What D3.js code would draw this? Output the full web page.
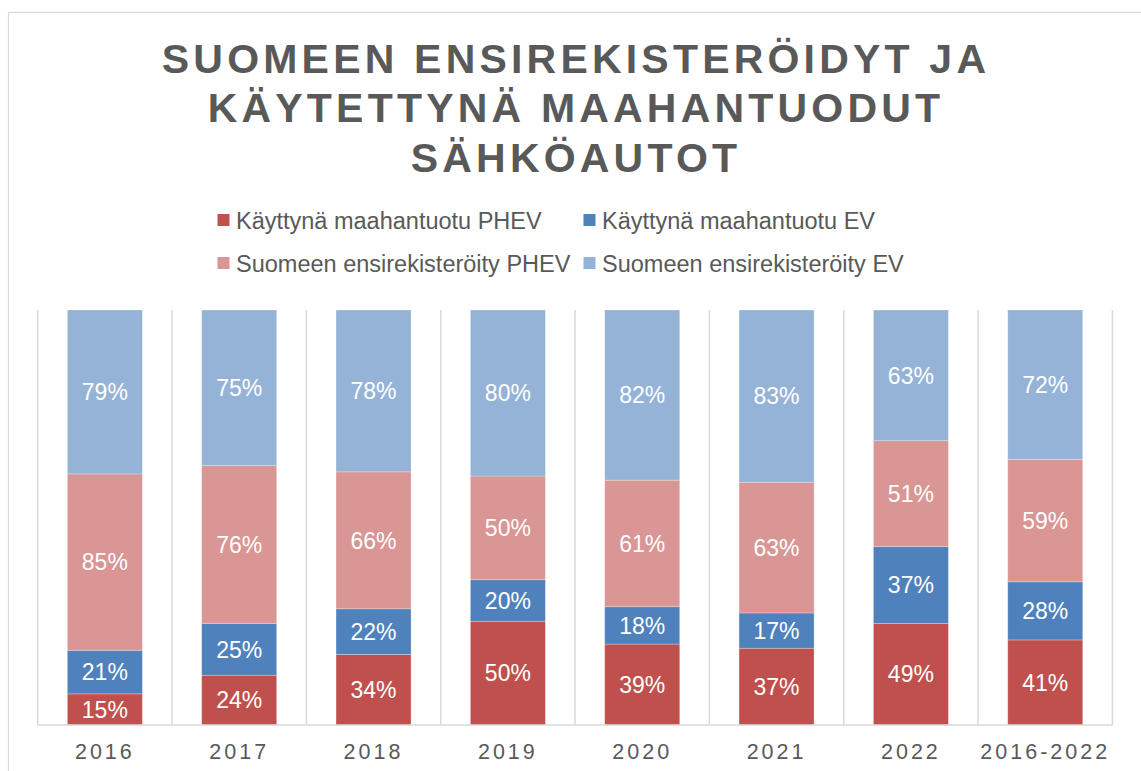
<!DOCTYPE html>
<html>
<head>
<meta charset="utf-8">
<script src="https://cdn.jsdelivr.net/npm/d3@7"></script>
<style>
  html, body { margin: 0; padding: 0; background: #fff; }
  svg { display: block; font-family: "Liberation Sans", Arial, sans-serif; }
</style>
</head>
<body>
<svg id="chart" width="1141" height="771"></svg>
<script>
// ---- data ----
const categories = ["2016", "2017", "2018", "2019", "2020", "2021", "2022", "2016-2022"];
const seriesNames = [
  "Käyttynä maahantuotu PHEV",
  "Käyttynä maahantuotu EV",
  "Suomeen ensirekisteröity PHEV",
  "Suomeen ensirekisteröity EV"
];
const usedPHEV = [15, 24, 34, 50, 39, 37, 49, 41];
const usedEV   = [21, 25, 22, 20, 18, 17, 37, 28];
const newPHEV  = [85, 76, 66, 50, 61, 63, 51, 59];
const newEV    = [79, 75, 78, 80, 82, 83, 63, 72];
const seriesColors = ["#C0504D", "#4F81BD", "#D99694", "#95B3D7"];
const titleLines = ["SUOMEEN ENSIREKISTERÖIDYT JA", "KÄYTETTYNÄ MAAHANTUODUT", "SÄHKÖAUTOT"];

const seriesValues = [usedPHEV, usedEV, newPHEV, newEV];
const table = categories.map((c, i) => {
  const row = { cat: c };
  seriesNames.forEach((s, j) => row[s] = seriesValues[j][i]);
  return row;
});

const svg = d3.select("#chart");
const textColor = "#595959";
const gridColor = "#D9D9D9";

// outer frame
svg.append("rect")
  .attr("x", 8.5).attr("y", 12.5)
  .attr("width", 1134).attr("height", 800)
  .attr("fill", "none").attr("stroke", gridColor).attr("stroke-width", 1.2);

// title
const title = svg.append("text")
  .attr("text-anchor", "middle")
  .attr("font-weight", "bold")
  .attr("font-size", 41)
  .attr("letter-spacing", "4.2px")
  .attr("fill", textColor);
titleLines.forEach((t, i) => {
  title.append("tspan").attr("x", 576).attr("y", 73 + i * 49.3).text(t);
});

// legend
const legendItems = [
  { name: seriesNames[0], color: seriesColors[0], x: 217.5, y: 229 },
  { name: seriesNames[1], color: seriesColors[1], x: 583.5, y: 229 },
  { name: seriesNames[2], color: seriesColors[2], x: 217.5, y: 272 },
  { name: seriesNames[3], color: seriesColors[3], x: 583.5, y: 272 }
];
const lg = svg.append("g").selectAll("g").data(legendItems).join("g");
lg.append("rect")
  .attr("x", d => d.x).attr("y", d => d.y - 15)
  .attr("width", 12).attr("height", 12)
  .attr("fill", d => d.color);
lg.append("text")
  .attr("x", d => d.x + 18.5).attr("y", d => d.y)
  .attr("font-size", 23.5).attr("fill", textColor)
  .text(d => d.name);

// scales
const x0 = 37.7, x1 = 1112.4, yBottom = 725, yTop = 310;
const x = d3.scaleBand().domain(categories).range([x0, x1])
  .paddingInner(0.4417).paddingOuter(0.2208);
const y = d3.scaleLinear().domain([0, 200]).range([yBottom, yTop]);

// vertical category separators
const step = x.step();
const sepIdx = d3.range(categories.length + 1);
svg.append("g").selectAll("line").data(sepIdx).join("line")
  .attr("x1", i => x0 + i * step).attr("x2", i => x0 + i * step)
  .attr("y1", yTop).attr("y2", yBottom)
  .attr("stroke", gridColor).attr("stroke-width", 1.5);

// stacked bars
const stack = d3.stack().keys(seriesNames);
const stacked = stack(table);
const layers = svg.append("g").selectAll("g").data(stacked).join("g")
  .attr("fill", (d, i) => seriesColors[i]);
layers.selectAll("rect").data(d => d).join("rect")
  .attr("x", d => x(d.data.cat))
  .attr("width", x.bandwidth())
  .attr("y", d => y(d[1]))
  .attr("height", d => y(d[0]) - y(d[1]))
  .attr("stroke", "rgba(255,255,255,0.35)").attr("stroke-width", 0.75);

// data labels
layers.selectAll("text").data((d, i) => d.map(v => ({ v, key: d.key })))
  .join("text")
  .attr("x", d => x(d.v.data.cat) + x.bandwidth() / 2)
  .attr("y", d => (y(d.v[0]) + y(d.v[1])) / 2)
  .attr("dy", "0.36em")
  .attr("text-anchor", "middle")
  .attr("font-size", 23)
  .attr("fill", "#fff")
  .text(d => d.v.data[d.key] + "%");

// x axis
const xAxis = svg.append("g")
  .attr("transform", `translate(0,${yBottom})`)
  .call(d3.axisBottom(x).tickSize(0).tickPadding(0));
xAxis.select(".domain").remove();
xAxis.append("line")
  .attr("x1", x0).attr("x2", x1).attr("y1", 0).attr("y2", 0)
  .attr("stroke", gridColor).attr("stroke-width", 1.5);
xAxis.selectAll(".tick text")
  .attr("y", 34).attr("dy", 0)
  .attr("font-family", "'Liberation Sans', Arial, sans-serif")
  .attr("font-size", 21.5)
  .attr("letter-spacing", "3px")
  .attr("fill", textColor);
</script>
</body>
</html>
